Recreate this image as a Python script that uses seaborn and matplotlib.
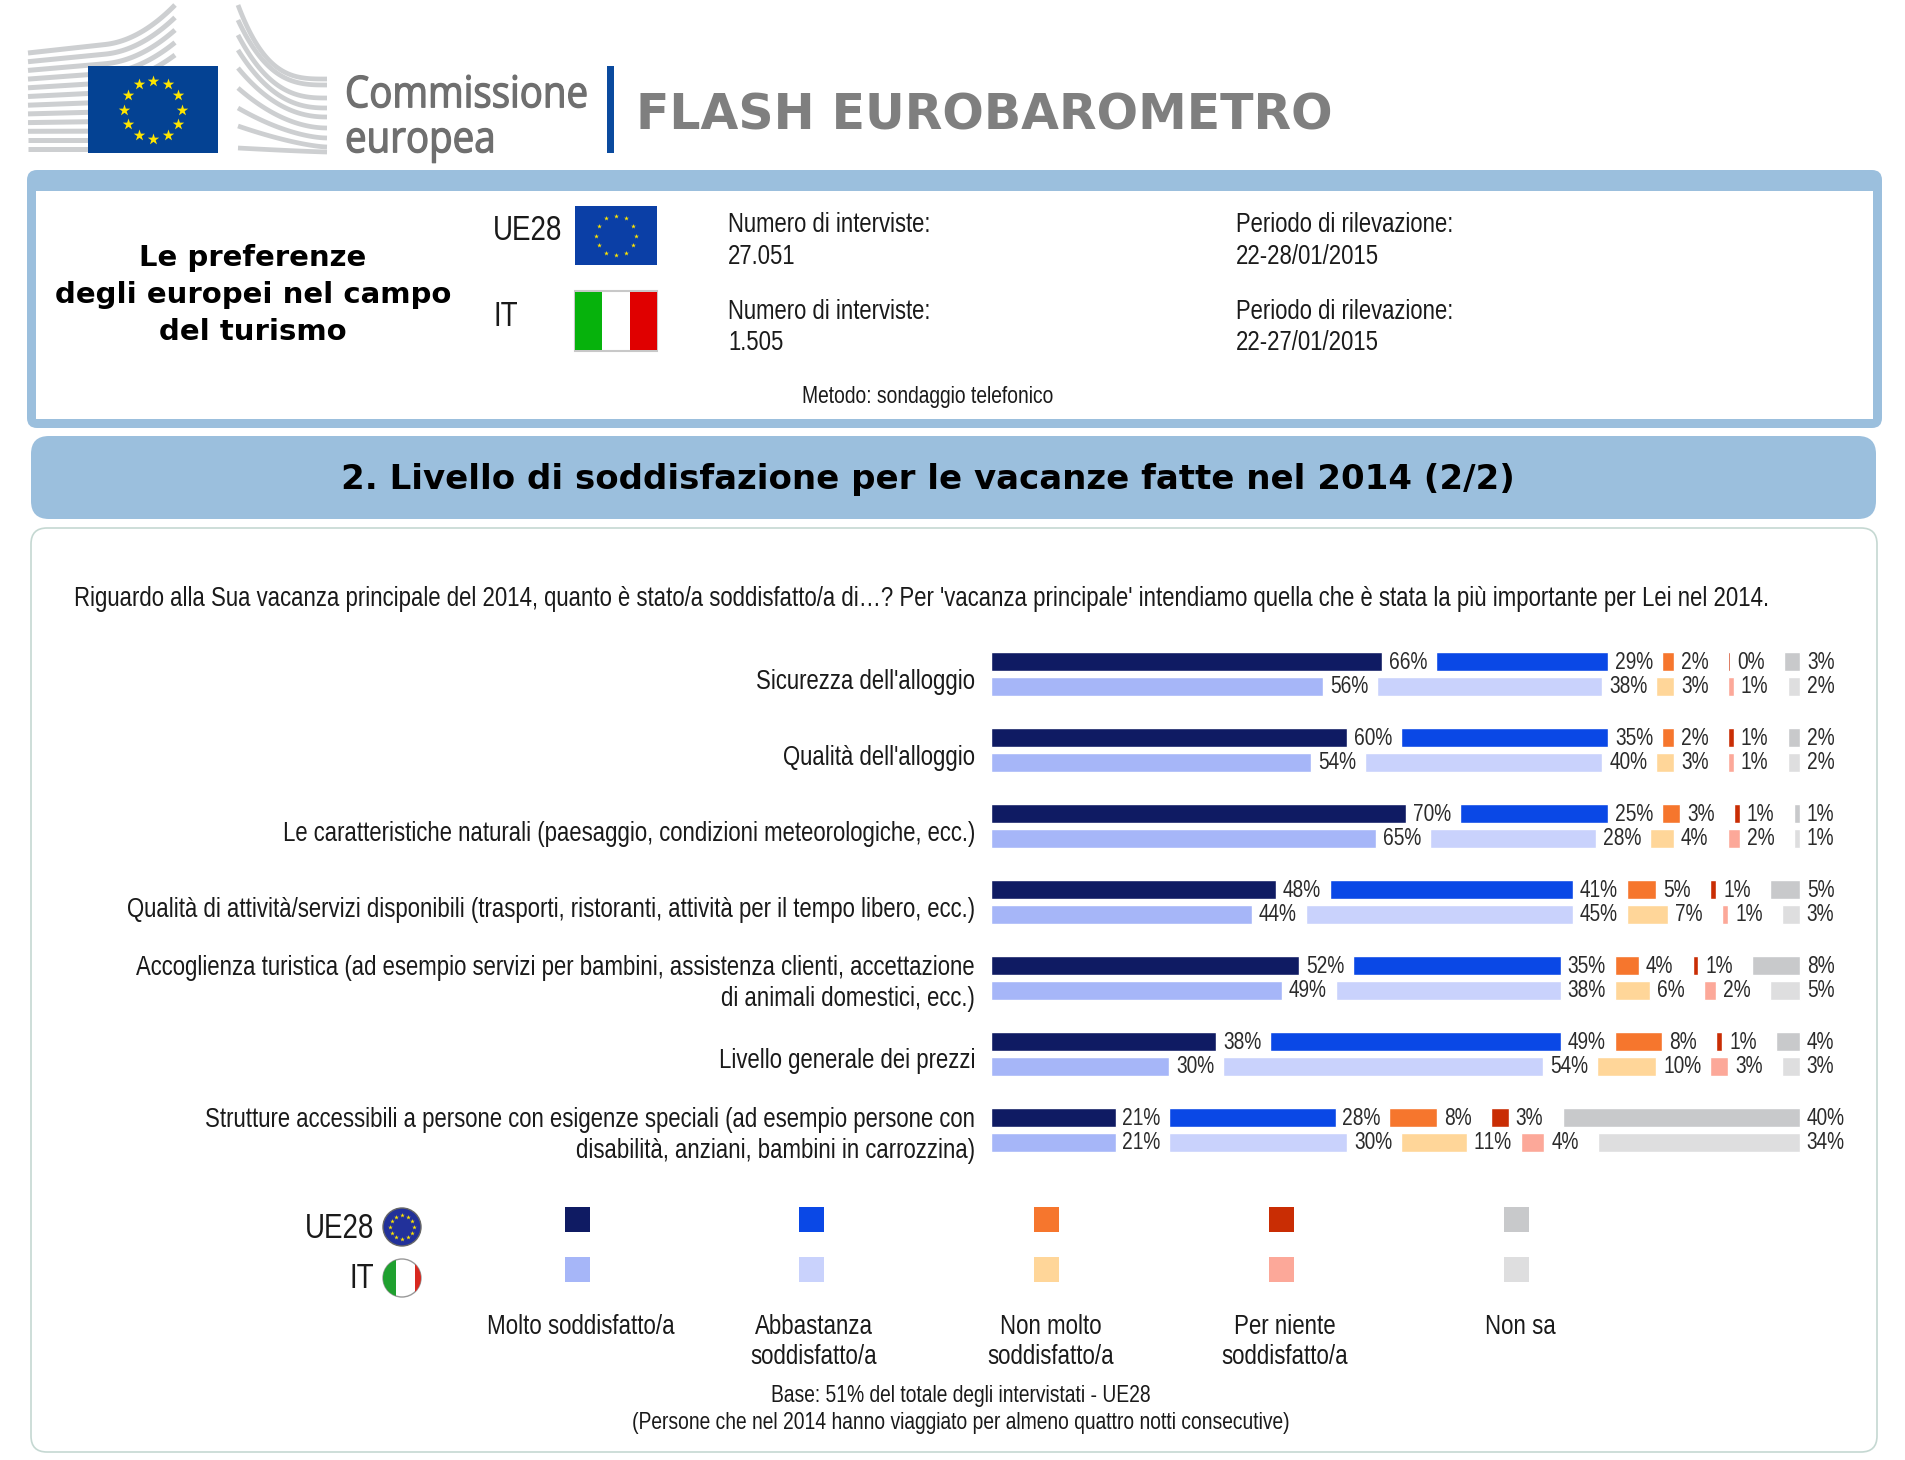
import numpy as np
import pandas as pd
import matplotlib
matplotlib.use("Agg")
import matplotlib.pyplot as plt
import matplotlib.patheffects as pe
import seaborn as sns
from matplotlib import font_manager
from matplotlib.patches import FancyBboxPatch, Rectangle, Circle
from matplotlib.transforms import ScaledTranslation
from fontTools.ttLib import TTFont
from fontTools.ttLib.tables._g_l_y_f import GlyphCoordinates

W, H = 1905, 1460

categories = [
    "Sicurezza dell'alloggio",
    "Qualità dell'alloggio",
    "Le caratteristiche naturali (paesaggio, condizioni meteorologiche, ecc.)",
    "Qualità di attività/servizi disponibili (trasporti, ristoranti, attività per il tempo libero, ecc.)",
    "Accoglienza turistica (ad esempio servizi per bambini, assistenza clienti, accettazione\ndi animali domestici, ecc.)",
    "Livello generale dei prezzi",
    "Strutture accessibili a persone con esigenze speciali (ad esempio persone con\ndisabilità, anziani, bambini in carrozzina)",
]
responses = ["Molto soddisfatto/a", "Abbastanza\nsoddisfatto/a", "Non molto\nsoddisfatto/a",
             "Per niente\nsoddisfatto/a", "Non sa"]

# one list per response, rows in the order of categories
ue_molto = [66, 60, 70, 48, 52, 38, 21]
ue_abbastanza = [29, 35, 25, 41, 35, 49, 28]
ue_non_molto = [2, 2, 3, 5, 4, 8, 8]
ue_per_niente = [0.3, 1, 1, 1, 1, 1, 3]
ue_non_sa = [2.8, 2, 1, 5, 8, 4, 40]

it_molto = [56, 54, 65, 44, 49, 30, 21]
it_abbastanza = [38, 40, 28, 45, 38, 54, 30]
it_non_molto = [3, 3, 4, 7, 6, 10, 11]
it_per_niente = [1, 1, 2, 1, 2, 3, 4]
it_non_sa = [2, 2, 1, 3, 5, 3, 34]

ue_colors = ["#0F1B63", "#0A48E6", "#F6762D", "#C92D04", "#C8C9CB"]
it_colors = ["#A6B6F8", "#C9D2FC", "#FFD699", "#FCA899", "#DEDEDF"]

TEXT = "#1a1a1a"


# the reference uses a squeezed Arial; no narrow face is installed, so build one
def make_narrow(source_family, new_family, k):
    path = font_manager.findfont(source_family)
    font = TTFont(path)
    glyf = font["glyf"]
    for name in glyf.keys():
        g = glyf[name]
        if g.isComposite():
            for comp in g.components:
                comp.x = int(comp.x * k)
        elif g.numberOfContours > 0:
            g.coordinates = GlyphCoordinates([(int(x * k), y) for x, y in g.coordinates])
        if hasattr(g, "program"):
            g.program.fromBytecode(b"")
    hmtx = font["hmtx"]
    for name, (adv, lsb) in list(hmtx.metrics.items()):
        hmtx.metrics[name] = (int(adv * k), int(lsb * k))
    for tag in ["fpgm", "prep", "cvt ", "hdmx", "VDMX", "LTSH", "kern", "GPOS", "GSUB", "GDEF",
                "fvar", "gvar", "avar", "STAT", "HVAR", "MVAR", "cvar"]:
        if tag in font:
            del font[tag]
    for rec in font["name"].names:
        if rec.nameID in (1, 4, 16):
            rec.string = new_family
        elif rec.nameID == 6:
            rec.string = new_family.replace(" ", "")
        elif rec.nameID in (2, 17):
            rec.string = "Regular"
    out = new_family.replace(" ", "") + ".ttf"
    font.save(out)
    font_manager.fontManager.addfont(out)


make_narrow("Liberation Sans", "Resketch Narrow", 0.8)
make_narrow("Open Sans", "Resketch Logo", 0.88)
NARROW = ["Resketch Narrow", "Liberation Sans", "DejaVu Sans"]

sns.set_theme(style="white")
plt.rcParams["font.family"] = NARROW

fig = plt.figure(figsize=(W / 100, H / 100), dpi=100, facecolor="white")

# page decorations are laid out in pixels on a full size axes
bg = fig.add_axes([0, 0, 1, 1])
bg.set_xlim(0, W)
bg.set_ylim(H, 0)
bg.axis("off")


def rounded(x0, y0, x1, y1, r, fc, ec="none", lw=0):
    bg.add_patch(FancyBboxPatch((x0 + r, y0 + r), x1 - x0 - 2 * r, y1 - y0 - 2 * r,
                                boxstyle=f"round,pad={r},rounding_size={r}",
                                fc=fc, ec=ec, lw=lw))


def eu_flag(x0, y0, x1, y1, star_size, color="#044293"):
    bg.add_patch(Rectangle((x0, y0), x1 - x0, y1 - y0, fc=color, ec="none", zorder=2))
    cx, cy = (x0 + x1) / 2, (y0 + y1) / 2
    r = (y1 - y0) / 3
    ang = np.arange(12) * np.pi / 6
    bg.scatter(cx + r * np.cos(ang), cy + r * np.sin(ang), marker="*", s=star_size,
               color="#FFE500", linewidths=0, zorder=3)


# logo: the curved stripes of the building behind the flag
logo_x = np.linspace(28, 175, 80)
for i in range(12):
    y0 = 53 + 8.7 * i
    slope = max(0.11 - 0.012 * i, 0)
    straight = y0 - slope * (logo_x - 28)
    if i < 5:
        end = 5 + 12.5 * i
        bend = np.clip(logo_x - 105, 0, None) ** 2
        yy = straight - (straight[-1] - end) * bend / bend[-1]
        xx = logo_x
    else:
        xx, yy = logo_x[logo_x < 100], straight[logo_x < 100]
    bg.plot(xx, yy, color="#CDCFD1", lw=3.6, solid_capstyle="butt", zorder=1)

wing_left = [5, 20, 35, 50, 68, 88, 108, 126, 148]
wing_right = [79, 85, 98, 108, 117, 128, 138, 147, 152]
wing_x = np.linspace(238, 327, 60)
for i, (yl, yr) in enumerate(zip(wing_left, wing_right)):
    t = (wing_x - 238) / 89
    p = 3.2 - 0.25 * i
    bg.plot(wing_x, yl + (yr - yl) * (1 - (1 - t) ** p), color="#CDCFD1", lw=3.4,
            solid_capstyle="butt", zorder=1)

eu_flag(88, 66, 218, 153, 75)
heavier = [pe.withStroke(linewidth=0.9, foreground="#6F6F6F")]
bg.text(345, 96, "Commissione", color="#6F6F6F", fontsize=31.5, family=["Resketch Logo"],
        va="center", ha="left", path_effects=heavier)
bg.text(345, 141, "europea", color="#6F6F6F", fontsize=31.5, family=["Resketch Logo"],
        va="center", ha="left", path_effects=heavier)
bg.add_patch(Rectangle((607, 66), 7, 87, fc="#0A4A9E", ec="none"))
bg.text(636, 116, "FLASH EUROBAROMETRO", color="#7F7F7F", fontsize=35.2, family=["DejaVu Sans"],
        weight="bold", va="center", ha="left")

# info box
rounded(27, 170, 1882, 428, 10, "#9BBFDD")
bg.add_patch(Rectangle((36, 191), 1837, 228, fc="white", ec="none"))
for y, line in zip([258, 295, 332], ["Le preferenze", "degli europei nel campo", "del turismo"]):
    bg.text(253, y, line, fontsize=21, family=["DejaVu Sans"], weight="bold", color="black",
            ha="center", va="center")
bg.text(493, 231, "UE28", fontsize=25, color=TEXT, va="center", ha="left")
bg.text(493, 317, "IT", fontsize=25, color=TEXT, va="center", ha="left")
eu_flag(575, 206, 657, 265, 13, color="#0B3FA6")
bg.add_patch(Rectangle((575, 291), 82, 60, fc="white", ec="#C8C8C8", lw=1.5))
bg.add_patch(Rectangle((575, 292), 27, 58, fc="#06B20C", ec="none"))
bg.add_patch(Rectangle((630, 292), 27, 58, fc="#E00000", ec="none"))
info_rows = [(225, "Numero di interviste:", "Periodo di rilevazione:"),
             (257, "27.051", "22-28/01/2015"),
             (312, "Numero di interviste:", "Periodo di rilevazione:"),
             (343, "1.505", "22-27/01/2015")]
for y, left_txt, right_txt in info_rows:
    bg.text(728, y, left_txt, fontsize=19.9, color=TEXT, va="center", ha="left")
    bg.text(1236, y, right_txt, fontsize=19.9, color=TEXT, va="center", ha="left")
bg.text(928, 397, "Metodo: sondaggio telefonico", fontsize=17.4, color=TEXT, va="center", ha="center")

# section title
rounded(31, 436, 1876, 519, 18, "#9BBFDD")
bg.text(928, 479, "2. Livello di soddisfazione per le vacanze fatte nel 2014 (2/2)", fontsize=24.5,
        family=["DejaVu Sans"], weight="bold", color="black", ha="center", va="center")

# chart panel
rounded(31, 528, 1877, 1452, 16, "white", ec="#C5D8D2", lw=1.2)
bg.text(74, 599, "Riguardo alla Sua vacanza principale del 2014, quanto è stato/a soddisfatto/a di…? "
                 "Per 'vacanza principale' intendiamo quella che è stata la più importante per Lei nel 2014.",
        fontsize=20.0, color=TEXT, va="center", ha="left")

# chart: stacked bars with a fixed gap between the segments
GAP = 9.1
X_MAX = 137
PX_PER_PCT = 5.93
rows = np.arange(len(categories))
ax = fig.add_axes([991 / W, 1 - 1168 / H, X_MAX * PX_PER_PCT / W, 532 / H], facecolor="none")

ue_series = [ue_molto, ue_abbastanza, ue_non_molto, ue_per_niente, ue_non_sa]
it_series = [it_molto, it_abbastanza, it_non_molto, it_per_niente, it_non_sa]

for series, colors, offset in [(ue_series, ue_colors, -0.158), (it_series, it_colors, 0.158)]:
    left = np.zeros(len(categories))
    for vals, col in zip(series, colors):
        df = pd.DataFrame({"pos": rows + offset, "val": vals})
        sns.barplot(data=df, x="val", y="pos", orient="y", native_scale=True, width=0.25,
                    left=left, color=col, saturation=1, errorbar=None, ax=ax)
        anns = ax.bar_label(ax.containers[-1], labels=[f"{v:.0f}%" for v in vals], padding=5,
                            fontsize=17.2, color="#2b2b2b", family=NARROW, annotation_clip=False)
        for ann in anns:
            ann.xyann = (ann.xyann[0], -1)
        left = left + np.array(vals) + GAP

ax.set_xlim(0, X_MAX)
ax.set_ylim(6.5, -0.5)
ax.set_xlabel("")
ax.set_ylabel("")
ax.set_yticks(rows)
ax.set_yticklabels(categories, fontsize=20, color=TEXT, ha="right", linespacing=1.27)
ax.set_xticks([])
ax.tick_params(axis="y", length=0, pad=11.5)
sns.despine(ax=ax, left=True, bottom=True)
# one line labels sit a little lower than the middle of their row
for tick, cat in zip(ax.get_yticklabels(), categories):
    shift = 0 if "\n" in cat else -4.5 / 100
    tick.set_transform(tick.get_transform() + ScaledTranslation(0, shift, fig.dpi_scale_trans))

# legend
legend_x = [577, 811.5, 1046, 1281, 1516]
label_x = [581, 814, 1051, 1285, 1520]
for lx, tx, c1, c2, name in zip(legend_x, label_x, ue_colors, it_colors, responses):
    bg.add_patch(Rectangle((lx - 12.5, 1207), 25, 25, fc=c1, ec="none"))
    bg.add_patch(Rectangle((lx - 12.5, 1257), 25, 25, fc=c2, ec="none"))
    bg.text(tx, 1314.5, name, fontsize=20.1, color=TEXT, ha="center", va="top", linespacing=1.2)

bg.text(374, 1228, "UE28", fontsize=25, color=TEXT, ha="right", va="center")
bg.text(374, 1278, "IT", fontsize=25, color=TEXT, ha="right", va="center")
bg.add_patch(Circle((402, 1227), 19, fc="#22319A", ec="#666666", lw=1))
ang = np.arange(12) * np.pi / 6
bg.scatter(402 + 12 * np.cos(ang), 1227 + 12 * np.sin(ang), marker="*", s=12, color="#FFE500",
           linewidths=0, zorder=3)
bg.add_patch(Circle((402, 1278), 19, fc="white", ec="#999999", lw=1))
it_clip = Circle((402, 1278), 19, transform=bg.transData)
for x0, col in [(383, "#1FA02F"), (415, "#D8281F")]:
    patch = Rectangle((x0, 1259), 13, 38, fc=col, ec="none")
    bg.add_patch(patch)
    patch.set_clip_path(it_clip)

bg.text(961, 1396, "Base: 51% del totale degli intervistati - UE28", fontsize=17.4, color=TEXT,
        ha="center", va="center")
bg.text(961, 1423, "(Persone che nel 2014 hanno viaggiato per almeno quattro notti consecutive)",
        fontsize=17.4, color=TEXT, ha="center", va="center")

fig.savefig("out.png", dpi=100, facecolor="white")
